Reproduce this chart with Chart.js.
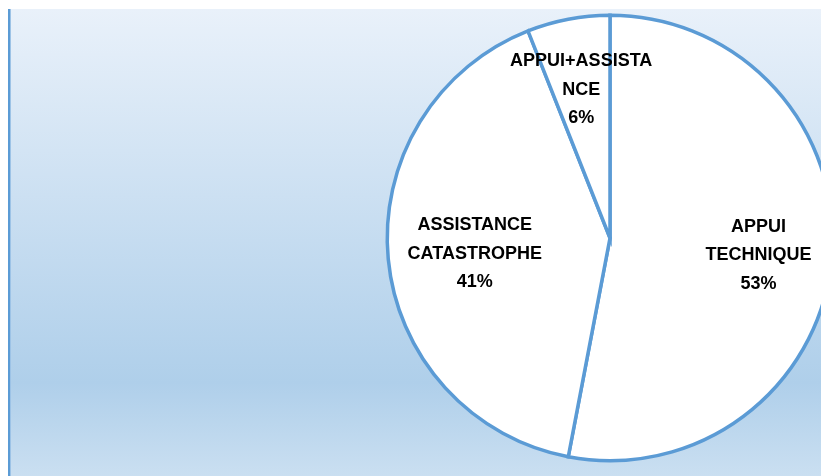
<!DOCTYPE html>
<html>
<head>
<meta charset="utf-8">
<script src="https://cdn.jsdelivr.net/npm/chart.js@4"></script>
<style>
  html, body { margin: 0; padding: 0; background: #fff; }
  #wrap { position: relative; width: 821px; height: 476px; overflow: hidden; }
  #panel {
    position: absolute; left: 8px; top: 9px; width: 813px; height: 467px;
    border-left: 2px solid #5b9bd5; box-sizing: border-box;
    box-shadow: inset 1px 0 0 #9dc3e6;
    background: linear-gradient(to bottom, #e9f1fa 0%, #afcfea 80%, #cadff1 100%);
  }
  #box { position: absolute; left: 0; top: 0; width: 1000px; height: 476px; }
</style>
</head>
<body>
<div id="wrap">
  <div id="panel"></div>
  <div id="box"><canvas id="pie"></canvas></div>
</div>
<script>
// données du graphique
const categories = ['APPUI TECHNIQUE', 'ASSISTANCE CATASTROPHE', 'APPUI+ASSISTANCE'];
const percents = [53, 41, 6];
// texte des étiquettes, coupé comme sur l'original
const labelLines = [
    ['APPUI', 'TECHNIQUE'],
    ['ASSISTANCE', 'CATASTROPHE'],
    ['APPUI+ASSISTA', 'NCE']
];

// distance du centre pour chaque étiquette (fraction du rayon)
const labelRadius = [0.67, 0.61, 0.69];

const pieLabels = {
    id: 'pieLabels',
    afterDatasetsDraw(chart) {
        const ctx = chart.ctx;
        const arcs = chart.getDatasetMeta(0).data;
        ctx.save();
        ctx.font = 'bold 18px "Liberation Sans", Arial, sans-serif';
        ctx.fillStyle = '#000';
        ctx.textAlign = 'center';
        ctx.textBaseline = 'middle';
        arcs.forEach((arc, i) => {
            const mid = (arc.startAngle + arc.endAngle) / 2;
            const r = arc.outerRadius * labelRadius[i];
            const x = arc.x + Math.cos(mid) * r;
            const y = arc.y + Math.sin(mid) * r + 3;
            const lines = labelLines[i].concat([percents[i] + '%']);
            const lh = 28.5;
            lines.forEach((t, k) => {
                ctx.fillText(t, x, y + (k - (lines.length - 1) / 2) * lh);
            });
        });
        ctx.restore();
    }
};

new Chart('pie', {
    type: 'pie',
    data: {
        labels: categories,
        datasets: [{
            data: percents,
            backgroundColor: '#ffffff',
            borderColor: '#5b9bd5',
            borderWidth: 3.5,
            borderJoinStyle: 'miter'
        }]
    },
    options: {
        responsive: true,
        maintainAspectRatio: false,
        animation: false,
        layout: {
            padding: { left: 385.5, right: 165.5, top: 13.5, bottom: 13.5 }
        },
        plugins: {
            legend: { display: false },
            tooltip: { enabled: false }
        }
    },
    plugins: [pieLabels]
});
</script>
</body>
</html>
